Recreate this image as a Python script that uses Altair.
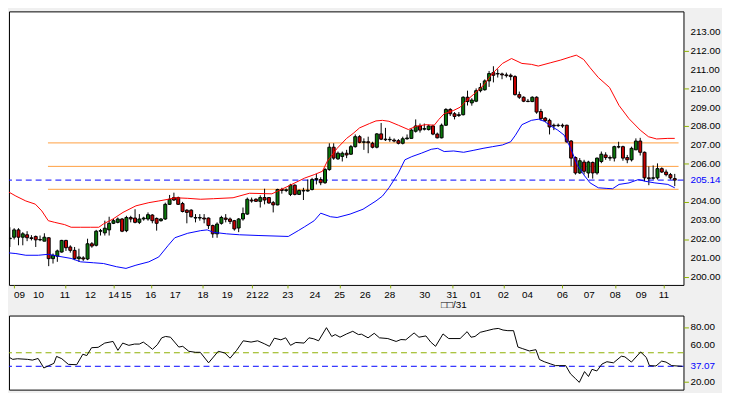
import altair as alt
import pandas as pd

# ---------------- candle data (4h bars, index 0..154) ----------------
opens = [202.02, 202.10, 202.49, 202.10, 202.23, 202.07, 202.14, 201.96, 201.89, 202.07,
         200.96, 201.09, 201.31, 201.93, 201.58, 201.40, 200.96, 201.00, 200.94, 201.75,
         201.67, 202.42, 202.33, 202.49, 202.84, 202.89, 203.07, 202.45, 203.15, 203.12,
         202.89, 203.07, 203.07, 203.28, 203.10, 202.98, 203.07, 203.85, 204.21, 204.21,
         203.89, 203.54, 203.54, 203.15, 203.12, 203.12, 203.12, 202.72, 202.28, 202.84,
         203.12, 203.07, 202.98, 202.59, 203.07, 203.33, 204.08, 204.12, 204.01, 204.21,
         204.21, 203.94, 203.82, 204.64, 204.59, 204.38, 204.87, 204.38, 204.59, 204.56,
         204.64, 205.17, 205.17, 205.00, 205.70, 206.89, 206.27, 206.40, 206.57, 206.52,
         206.92, 207.45, 207.15, 207.18, 207.10, 206.89, 207.60, 207.32, 207.29, 207.27,
         207.24, 207.10, 207.34, 207.36, 207.74, 208.02, 207.85, 207.83, 208.02, 207.59,
         207.39, 208.06, 208.90, 208.67, 208.58, 208.62, 209.55, 209.25, 209.34, 209.90,
         209.95, 210.42, 210.86, 210.81, 210.79, 210.74, 210.72, 210.65, 209.69, 209.55,
         209.34, 209.32, 209.55, 208.79, 208.44, 208.32, 208.06, 208.04, 208.06, 208.06,
         207.22, 206.34, 205.52, 206.10, 205.52, 206.08, 205.52, 206.13, 206.48, 206.34,
         206.31, 206.92, 206.92, 206.34, 206.22, 206.75, 207.22, 206.62, 205.26, 205.24,
         205.26, 205.75, 205.57, 205.43, 205.22]
highs = [202.63, 202.58, 202.58, 202.37, 202.42, 202.21, 202.19, 202.19, 202.31, 202.10,
         201.23, 201.44, 201.96, 201.96, 201.67, 201.58, 201.49, 201.09, 202.02, 201.84,
         202.49, 202.54, 202.98, 203.19, 203.07, 203.15, 203.12, 203.24, 203.24, 203.59,
         203.33, 203.19, 203.42, 203.33, 203.15, 203.12, 203.94, 204.35, 204.47, 204.26,
         203.98, 203.59, 203.59, 203.33, 203.33, 203.33, 203.15, 202.77, 202.89, 203.24,
         203.33, 203.15, 203.02, 203.12, 203.68, 204.21, 204.21, 204.17, 204.33, 204.68,
         204.24, 204.03, 204.68, 204.73, 204.70, 204.94, 204.91, 204.64, 204.73, 205.17,
         205.26, 205.47, 205.29, 205.79, 207.10, 207.10, 206.66, 206.66, 206.75, 207.01,
         207.57, 207.53, 207.36, 207.45, 207.18, 207.64, 208.18, 207.92, 207.45, 207.36,
         207.32, 207.45, 207.57, 207.88, 208.37, 208.15, 208.15, 208.09, 208.09, 207.67,
         208.15, 208.97, 208.97, 208.76, 208.76, 209.60, 209.90, 209.50, 210.02, 210.30,
         210.50, 210.95, 211.20, 211.04, 210.86, 210.86, 210.81, 210.72, 209.85, 209.60,
         209.46, 209.60, 209.60, 208.93, 208.50, 208.41, 208.15, 208.15, 208.15, 208.09,
         207.27, 206.40, 206.31, 206.22, 206.17, 206.13, 206.34, 206.66, 206.62, 206.45,
         206.97, 207.18, 206.97, 206.48, 206.92, 207.36, 207.39, 206.66, 205.87, 205.92,
         206.03, 205.82, 205.70, 205.52, 205.47]
lows = [201.58, 201.98, 201.67, 201.67, 201.89, 201.93, 201.58, 201.89, 201.89, 200.56,
        200.70, 200.79, 201.28, 201.37, 201.28, 200.88, 200.79, 200.84, 200.88, 201.54,
        201.61, 202.19, 202.19, 202.19, 202.80, 202.84, 202.37, 202.37, 202.89, 202.84,
        202.80, 202.98, 202.98, 202.84, 202.45, 202.93, 203.02, 203.82, 204.03, 203.82,
        203.42, 202.84, 203.15, 202.89, 202.98, 202.84, 202.54, 202.07, 202.07, 202.77,
        202.89, 202.80, 202.45, 202.37, 202.98, 203.29, 203.94, 203.98, 203.68, 203.85,
        203.89, 203.42, 203.80, 204.42, 204.50, 204.29, 204.33, 204.35, 204.08, 204.52,
        204.59, 204.91, 204.87, 204.94, 205.64, 206.22, 206.22, 206.13, 206.31, 206.48,
        206.87, 207.10, 206.75, 206.57, 206.83, 206.83, 207.27, 207.22, 207.18, 207.15,
        207.04, 207.04, 207.29, 207.36, 207.67, 207.67, 207.78, 207.78, 207.53, 207.36,
        207.36, 208.02, 208.55, 208.37, 208.50, 208.58, 209.11, 209.10, 209.29, 209.81,
        209.90, 210.10, 210.34, 210.60, 210.51, 210.60, 210.45, 209.64, 209.46, 209.29,
        209.29, 209.29, 208.67, 208.32, 208.23, 207.57, 207.80, 207.97, 207.92, 207.13,
        205.87, 205.43, 205.47, 205.43, 205.26, 205.22, 205.43, 206.04, 206.22, 206.17,
        206.13, 206.83, 206.17, 206.04, 206.13, 206.75, 206.45, 205.08, 204.87, 205.17,
        205.17, 205.52, 205.34, 205.17, 204.82]
closes = [202.05, 202.49, 202.10, 202.28, 202.07, 202.03, 201.96, 201.98, 202.10, 200.96,
          201.14, 201.37, 201.93, 201.54, 201.40, 200.96, 201.05, 200.94, 201.75, 201.63,
          202.42, 202.45, 202.58, 202.84, 202.98, 203.07, 202.42, 203.15, 203.07, 202.89,
          203.07, 203.12, 203.30, 202.98, 202.84, 203.07, 203.85, 204.12, 204.08, 203.85,
          203.47, 203.42, 203.19, 203.12, 203.15, 203.07, 202.72, 202.28, 202.80, 203.15,
          203.05, 202.94, 202.54, 203.07, 203.36, 204.12, 204.03, 204.01, 204.21, 204.08,
          203.92, 203.82, 204.64, 204.59, 204.62, 204.87, 204.38, 204.59, 204.56, 204.60,
          205.17, 205.22, 205.00, 205.70, 206.89, 206.31, 206.57, 206.57, 206.48, 206.92,
          207.45, 207.15, 207.18, 207.13, 206.89, 207.60, 207.32, 207.29, 207.31, 207.22,
          207.10, 207.34, 207.38, 207.80, 208.02, 207.80, 207.88, 208.02, 207.59, 207.39,
          208.06, 208.90, 208.67, 208.53, 208.62, 209.55, 209.32, 209.40, 209.90, 210.07,
          210.42, 210.81, 210.72, 210.79, 210.74, 210.70, 210.65, 209.69, 209.55, 209.34,
          209.32, 209.55, 208.76, 208.41, 208.30, 207.97, 208.02, 208.06, 208.02, 207.18,
          206.31, 205.52, 206.17, 205.61, 206.10, 205.52, 206.31, 206.52, 206.34, 206.31,
          206.92, 206.90, 206.31, 206.22, 206.83, 207.22, 206.62, 205.26, 205.22, 205.26,
          205.75, 205.57, 205.43, 205.26, 205.14]

# ---------------- bands (upper red / lower blue) ----------------
upper_x = [-0.9, 1.4, 3.7, 5.9, 7.4, 8.9, 10.4, 12.7, 14.2, 16.4, 18.7, 20.6, 21.7, 23.9, 26.2,
           29.2, 32.2, 34.5, 36.7, 38.2, 41.2, 44.2, 47.2, 51.7, 55.5, 60.7, 64.5, 68.3, 70.5,
           72.4, 73.5, 75.8, 78.0, 79.5, 81.0, 83.3, 84.8, 86.3, 87.8, 90.0, 92.3, 94.2, 96.4,
           98.3, 99.4, 100.6, 102.8, 104.3, 105.8, 107.3, 109.6, 111.8, 114.1, 116.2, 118.6,
           120.8, 122.4, 125.3, 127.6, 129.9, 131.2, 132.9, 134.4, 136.3, 138.9, 141.1, 143.4,
           146.0, 147.9, 149.8, 152.4, 154.0]
upper_y = [204.59, 204.29, 204.03, 203.86, 203.50, 202.98, 202.89, 202.77, 202.63, 202.63,
           202.63, 202.63, 202.81, 203.07, 203.42, 203.77, 203.94, 204.03, 204.12, 204.20,
           204.17, 204.12, 204.15, 204.20, 204.44, 204.41, 204.82, 205.25, 205.43, 205.61,
           206.13, 206.83, 207.36, 207.62, 207.92, 208.15, 208.29, 208.32, 208.27, 208.06,
           207.83, 208.01, 208.09, 208.06, 208.38, 208.67, 208.85, 209.02, 209.38, 209.68,
           210.16, 210.82, 211.35, 211.61, 211.35, 211.30, 211.21, 211.39, 211.53, 211.70,
           211.79, 211.56, 211.12, 210.60, 210.07, 209.11, 208.41, 207.80, 207.45, 207.33,
           207.36, 207.36]
lower_x = [-0.9, 1.4, 3.7, 6.6, 8.9, 11.2, 14.2, 16.4, 19.4, 21.7, 24.7, 26.9, 29.2, 32.2,
           34.5, 36.7, 38.2, 41.2, 44.2, 45.7, 47.2, 50.2, 53.2, 57.7, 64.5, 66.8, 68.3, 70.5,
           72.0, 74.3, 75.8, 78.8, 81.8, 84.8, 86.3, 87.8, 90.0, 91.5, 93.1, 95.3, 97.6, 99.1,
           100.6, 102.8, 105.1, 107.3, 109.6, 111.8, 114.1, 116.0, 117.1, 118.6, 120.8, 122.4,
           123.8, 125.3, 126.9, 128.4, 129.9, 131.4, 132.9, 134.4, 136.3, 138.1, 139.6, 141.1,
           143.4, 145.6, 147.1, 149.4, 152.4, 154.0]
lower_y = [201.28, 201.23, 201.14, 201.14, 201.19, 201.09, 200.97, 200.79, 200.74, 200.70,
           200.53, 200.44, 200.61, 200.79, 201.05, 201.67, 202.07, 202.31, 202.45, 202.49,
           202.36, 202.28, 202.23, 202.19, 202.14, 202.45, 202.66, 202.98, 203.38, 203.19,
           203.15, 203.33, 203.59, 204.03, 204.29, 204.73, 205.52, 206.22, 206.39, 206.57,
           206.78, 206.83, 206.66, 206.69, 206.62, 206.72, 206.83, 206.92, 207.01, 207.18,
           207.53, 208.09, 208.32, 208.38, 208.27, 208.02, 207.80, 207.53, 206.83, 205.96,
           205.43, 204.99, 204.73, 204.70, 204.68, 204.91, 204.99, 205.17, 205.08, 204.99,
           204.91, 204.73]

# ---------------- RSI ----------------
rsi_x = [-0.9, -0.1, 0.65, 1.8, 2.9, 5.2, 6.3, 7.6, 8.9, 10.0, 11.2, 11.8, 13.0, 14.5, 16.4,
         17.8, 18.7, 19.8, 21.3, 22.8, 24.7, 25.8, 26.9, 28.3, 29.6, 30.7, 31.6, 32.6, 33.7,
         34.8, 35.8, 36.7, 37.8, 39.7, 40.6, 42.0, 43.5, 44.6, 46.5, 48.7, 50.2, 51.4, 52.9,
         54.4, 56.2, 57.7, 59.2, 60.4, 61.5, 63.0, 64.1, 65.2, 66.4, 68.3, 69.4, 70.5, 71.6,
         73.4, 74.6, 75.4, 76.5, 78.0, 79.4, 80.7, 81.4, 82.9, 84.3, 85.5, 87.4, 89.3, 90.4,
         91.5, 93.4, 94.5, 96.1, 97.2, 98.3, 100.0, 101.3, 103.9, 105.5, 106.4, 107.3, 108.5,
         110.0, 111.5, 112.6, 113.7, 114.8, 116.1, 117.1, 118.2, 119.7, 121.2, 122.0, 123.1,
         124.6, 125.7, 126.5, 128.0, 129.1, 130.2, 131.1, 132.3, 133.2, 134.0, 135.1, 136.3,
         137.4, 138.9, 140.7, 141.5, 143.0, 145.1, 146.4, 147.1, 148.6, 149.9, 150.9, 152.2,
         154.6]
rsi_y = [43.9, 45.0, 48.0, 44.7, 45.4, 44.7, 43.9, 45.7, 35.2, 37.7, 40.3, 48.0, 45.4, 39.2,
         38.8, 50.4, 48.9, 57.6, 58.0, 62.7, 64.5, 54.7, 62.7, 60.2, 61.6, 61.6, 63.8, 60.2,
         55.8, 60.9, 68.5, 70.0, 69.2, 58.3, 59.1, 53.6, 52.5, 52.5, 40.9, 53.6, 51.8, 46.0,
         54.7, 65.2, 63.8, 65.2, 62.0, 59.1, 68.1, 66.3, 68.5, 60.2, 63.4, 62.7, 68.5, 67.4,
         65.2, 79.7, 70.0, 72.1, 69.2, 72.8, 75.7, 72.1, 72.5, 68.5, 73.5, 68.5, 67.7, 64.5,
         66.6, 66.3, 73.9, 69.2, 70.6, 63.8, 59.1, 72.8, 67.7, 67.7, 75.3, 69.2, 70.0, 74.6,
         76.4, 78.2, 78.9, 77.1, 76.4, 76.4, 58.3, 56.5, 54.0, 55.4, 44.6, 42.1, 39.6, 37.8,
         37.8, 37.8, 28.7, 23.6, 19.3, 31.2, 25.8, 33.7, 31.9, 39.6, 42.1, 40.9, 48.2, 47.5,
         41.7, 52.9, 46.8, 37.8, 37.4, 42.8, 41.7, 37.8, 37.07]

# ---------------- axis ticks / reference levels ----------------
tick_pos = [0.95, 6.65, 12.73, 18.68, 24.09, 26.93, 32.66, 38.29, 44.74, 50.37, 56.01, 58.71,
            64.35, 70.66, 76.38, 82.31, 88.01, 96.12, 102.43, 107.84, 114.31, 119.88, 127.99,
            134.21, 140.23, 146.25, 151.50]
tick_labels = ["09", "10", "11", "12", "14", "15", "16", "17", "18", "19", "21", "22", "23",
               "24", "25", "26", "28", "30", "31", "01", "02", "04", "06", "07", "08", "09", "11"]
x_title = "\u25a1\u25a1/31"

price_axis_values = [200, 201, 202, 203, 204, 206, 207, 208, 209, 210, 211, 212, 213]
rsi_axis_values = [20, 60, 80]
level_lines = [207.12, 205.87, 204.65]
level_start = 8.83
last_price = 205.14
rsi_last = 37.07
rsi_mid = 52.0

x_domain = [0.947, 154.88]
y_domain = [199.56, 214.12]
rsi_domain = [11.3, 93.1]

# ---------------- styling ----------------
FONT = "Liberation Sans Narrow, Liberation Sans, sans-serif"
FS = 10
OLIVE = "#8DB000"
GREEN = "#0A780A"
RED = "#C80000"
ORANGE = "#FFA040"
BLUE = "#0000FF"
W, H, HR = 683, 277, 75

candles = pd.DataFrame({"i": list(range(len(closes))), "open": opens, "high": highs,
                        "low": lows, "close": closes})
up_df = candles[candles["close"] >= candles["open"]]
down_df = candles[candles["close"] < candles["open"]]
upper_df = pd.DataFrame({"x": upper_x, "y": upper_y})
lower_df = pd.DataFrame({"x": lower_x, "y": lower_y})
rsi_df = pd.DataFrame({"x": rsi_x, "y": rsi_y})
levels_df = pd.DataFrame({"y": level_lines, "x0": [level_start] * len(level_lines),
                          "x1": [x_domain[1]] * len(level_lines)})
xlab_df = pd.DataFrame({"pos": tick_pos, "lab": tick_labels})
ylab_df = pd.DataFrame({"v": price_axis_values, "t": ["%.2f" % v for v in price_axis_values]})
ylast_df = pd.DataFrame({"v": [last_price], "t": ["%.2f" % last_price]})
rlab_df = pd.DataFrame({"v": rsi_axis_values, "t": ["%.2f" % v for v in rsi_axis_values]})
rlast_df = pd.DataFrame({"v": [rsi_last], "t": ["%.2f" % rsi_last]})

x_scale = alt.Scale(domain=x_domain, nice=False, zero=False)
y_scale = alt.Scale(domain=y_domain, nice=False, zero=False)
r_scale = alt.Scale(domain=rsi_domain, nice=False, zero=False)

x_axis = alt.Axis(values=tick_pos, orient="bottom", labels=False, tickColor=OLIVE, tickSize=3,
                  domain=False, grid=False,
                  title=x_title, titleFont=FONT, titleFontSize=FS, titleFontWeight="normal",
                  titleColor="black", titleX=450, titleY=20, titleAlign="center",
                  titleBaseline="middle")


def y_axis(values, special):
    cond = "datum.value == " + repr(special)
    return alt.Axis(values=values + [special], orient="right", labels=False, grid=False,
                    domain=False, tickSize=5,
                    tickColor={"condition": {"test": cond, "value": BLUE}, "value": OLIVE},
                    title=None)


def text(df, color, align="left", baseline="middle"):
    return alt.Chart(df).mark_text(align=align, baseline=baseline, font=FONT, fontSize=FS,
                                   color=color)


levels = alt.Chart(levels_df).mark_rule(color=ORANGE, strokeWidth=1).encode(
    x=alt.X("x0:Q", scale=x_scale, axis=x_axis), x2="x1:Q",
    y=alt.Y("y:Q", scale=y_scale, axis=y_axis(price_axis_values, last_price)))
last_line = alt.Chart(ylast_df).mark_rule(color=BLUE, strokeWidth=1, strokeDash=[6, 4]).encode(
    y="v:Q")
wicks = alt.Chart(candles).mark_rule(color="black", strokeWidth=1, clip=True).encode(
    x="i:Q", y="low:Q", y2="high:Q")
bodies_up = alt.Chart(up_df).mark_bar(size=3, stroke="black", strokeWidth=1, clip=True,
                                      color=GREEN).encode(x="i:Q", y="open:Q", y2="close:Q")
bodies_down = alt.Chart(down_df).mark_bar(size=3, stroke="black", strokeWidth=1, clip=True,
                                          color=RED).encode(x="i:Q", y="open:Q", y2="close:Q")
upper = alt.Chart(upper_df).mark_line(color="#FF0000", strokeWidth=1, clip=True).encode(
    x="x:Q", y="y:Q")
lower = alt.Chart(lower_df).mark_line(color=BLUE, strokeWidth=1, clip=True).encode(
    x="x:Q", y="y:Q")
ylabels = text(ylab_df, "black").encode(x=alt.value(W + 7), y="v:Q", text="t:N")
ylast = text(ylast_df, BLUE).encode(x=alt.value(W + 7), y="v:Q", text="t:N")
xlab_first = text(xlab_df.iloc[:1], "black", "left", "top").encode(
    x="pos:Q", y=alt.value(H + 5), text="lab:N")
xlab_rest = text(xlab_df.iloc[1:], "black", "center", "top").encode(
    x="pos:Q", y=alt.value(H + 5), text="lab:N")

main = alt.layer(levels, last_line, wicks, bodies_up, bodies_down, upper, lower,
                 ylabels, ylast, xlab_first, xlab_rest).properties(width=W, height=H)

rsi_mid_rule = alt.Chart(pd.DataFrame({"v": [rsi_mid]})).mark_rule(
    color=OLIVE, strokeWidth=1, strokeDash=[6, 4]).encode(
    y=alt.Y("v:Q", scale=r_scale, axis=y_axis(rsi_axis_values, rsi_last)))
rsi_last_rule = alt.Chart(rlast_df).mark_rule(color=BLUE, strokeWidth=1,
                                              strokeDash=[6, 4]).encode(y="v:Q")
rsi_line = alt.Chart(rsi_df).mark_line(color="black", strokeWidth=1, clip=True).encode(
    x=alt.X("x:Q", scale=x_scale, axis=None), y="y:Q")
rlabels = text(rlab_df, "black").encode(x=alt.value(W + 7), y="v:Q", text="t:N")
rlast = text(rlast_df, BLUE).encode(x=alt.value(W + 7), y="v:Q", text="t:N")
rsi = alt.layer(rsi_mid_rule, rsi_last_rule, rsi_line, rlabels, rlast).properties(
    width=W, height=HR)

chart = alt.vconcat(main, rsi, spacing=4).properties(padding=0).configure(
    background="#F0F0F0").configure_view(stroke="black", strokeWidth=1, fill="white")

chart.save("out.html", embed_options={"renderer": "svg", "actions": False})
